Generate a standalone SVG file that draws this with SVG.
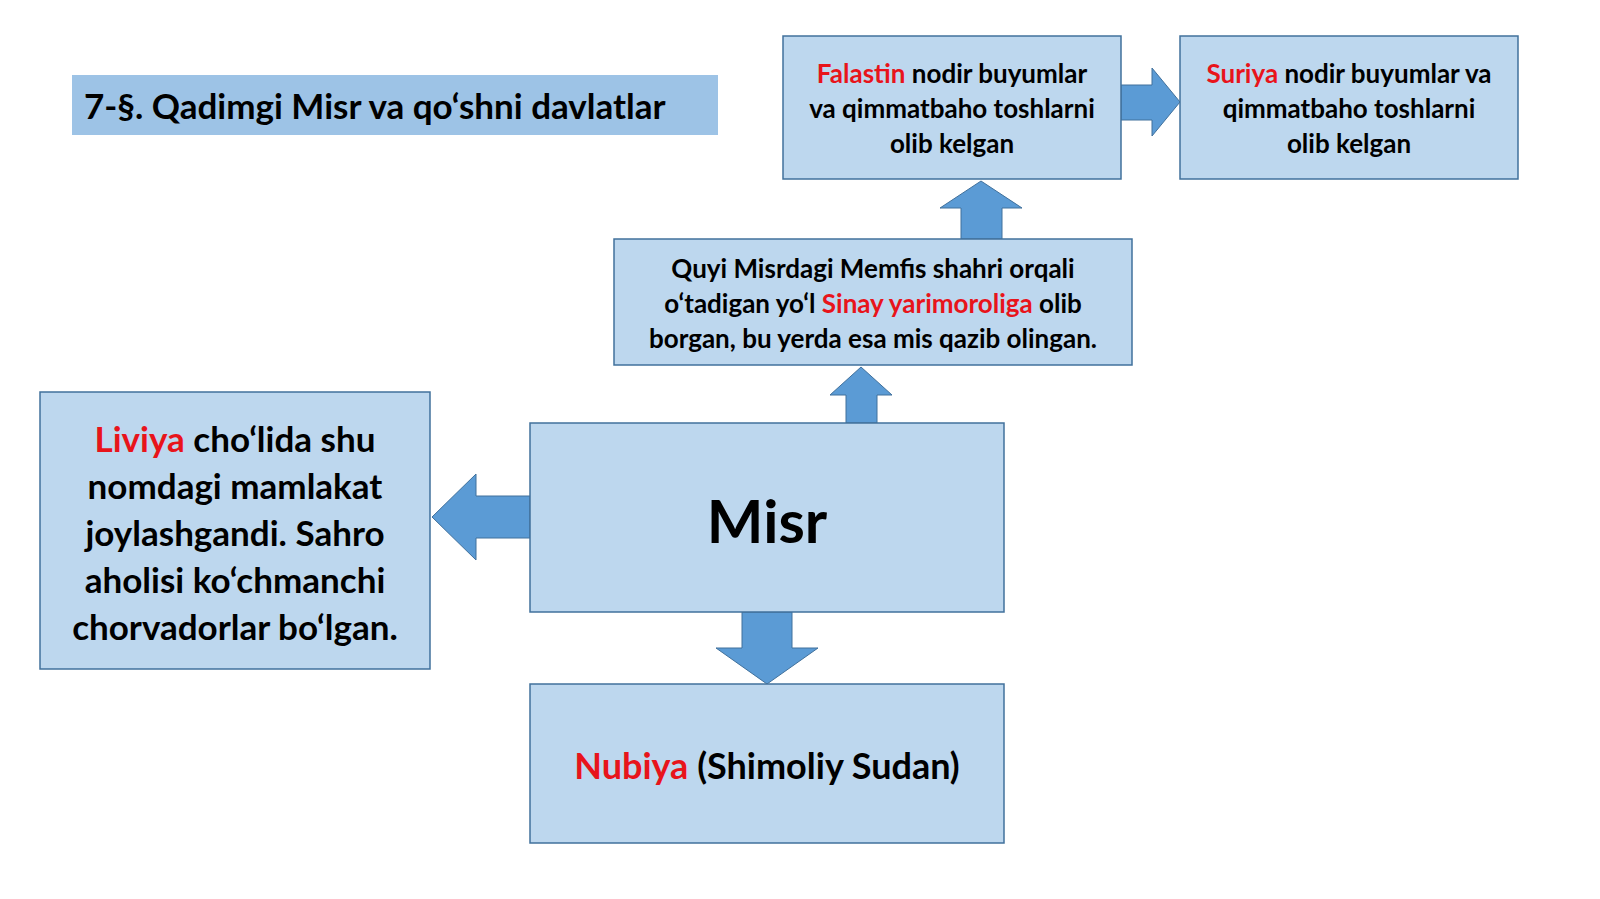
<svg xmlns="http://www.w3.org/2000/svg" width="1600" height="899" viewBox="0 0 1600 899">
<style>
.box{fill:#bdd7ee;stroke:#41719c;stroke-width:1.5}
.arr{fill:#5b9bd5;stroke:#41719c;stroke-width:1}
text{font-family:Lato,"Liberation Sans",sans-serif;font-weight:bold;fill:#000;text-anchor:middle}
.r{fill:#e8141b}
</style>
<rect x="0" y="0" width="1600" height="899" fill="#fff"/>
<g id="title"><rect x="72" y="75" width="646" height="60" fill="#9dc3e6"/>
<text x="84" y="119" font-size="35" style="text-anchor:start">7-§. Qadimgi Misr va qo‘shni davlatlar</text></g>
<g id="connectors">
<polygon class="arr" points="1121,85 1152,85 1152,68 1180,102 1152,136 1152,120 1121,120"/>
<polygon class="arr" points="961,239 961,208 940,208 981,181 1022,208 1002,208 1002,239"/>
<polygon class="arr" points="846,423 846,395 830,395 861,367 892,395 877,395 877,423"/>
<polygon class="arr" points="530,496 476,496 476,474 432,517 476,560 476,538 530,538"/>
<polygon class="arr" points="742,612 792,612 792,648 818,648 767,684 716,648 742,648"/>
</g>
<g id="falastin"><rect class="box" x="783" y="36" width="338" height="143"/>
<text font-size="26"><tspan x="952" y="83"><tspan class="r">Falastin</tspan> nodir buyumlar</tspan><tspan x="952" y="118">va qimmatbaho toshlarni</tspan><tspan x="952" y="153">olib kelgan</tspan></text></g>
<g id="suriya"><rect class="box" x="1180" y="36" width="338" height="143"/>
<text font-size="26"><tspan x="1349" y="83"><tspan class="r">Suriya</tspan> nodir buyumlar va</tspan><tspan x="1349" y="118">qimmatbaho toshlarni</tspan><tspan x="1349" y="153">olib kelgan</tspan></text></g>
<g id="quyi"><rect class="box" x="614" y="239" width="518" height="126"/>
<text font-size="26"><tspan x="873" y="278">Quyi Misrdagi Memfis shahri orqali</tspan><tspan x="873" y="313">o‘tadigan yo‘l <tspan class="r">Sinay yarimoroliga</tspan> olib</tspan><tspan x="873" y="348">borgan, bu yerda esa mis qazib olingan.</tspan></text></g>
<g id="misr"><rect class="box" x="530" y="423" width="474" height="189"/>
<text x="767" y="543" font-size="60">Misr</text></g>
<g id="liviya"><rect class="box" x="40" y="392" width="390" height="277"/>
<text font-size="35"><tspan x="235" y="452"><tspan class="r">Liviya</tspan> cho‘lida shu</tspan><tspan x="235" y="499">nomdagi mamlakat</tspan><tspan x="235" y="546">joylashgandi. Sahro</tspan><tspan x="235" y="593">aholisi ko‘chmanchi</tspan><tspan x="235" y="640">chorvadorlar bo‘lgan.</tspan></text></g>
<g id="nubiya"><rect class="box" x="530" y="684" width="474" height="159"/>
<text x="767" y="779" font-size="36"><tspan class="r">Nubiya</tspan> (Shimoliy Sudan)</text></g>
</svg>
